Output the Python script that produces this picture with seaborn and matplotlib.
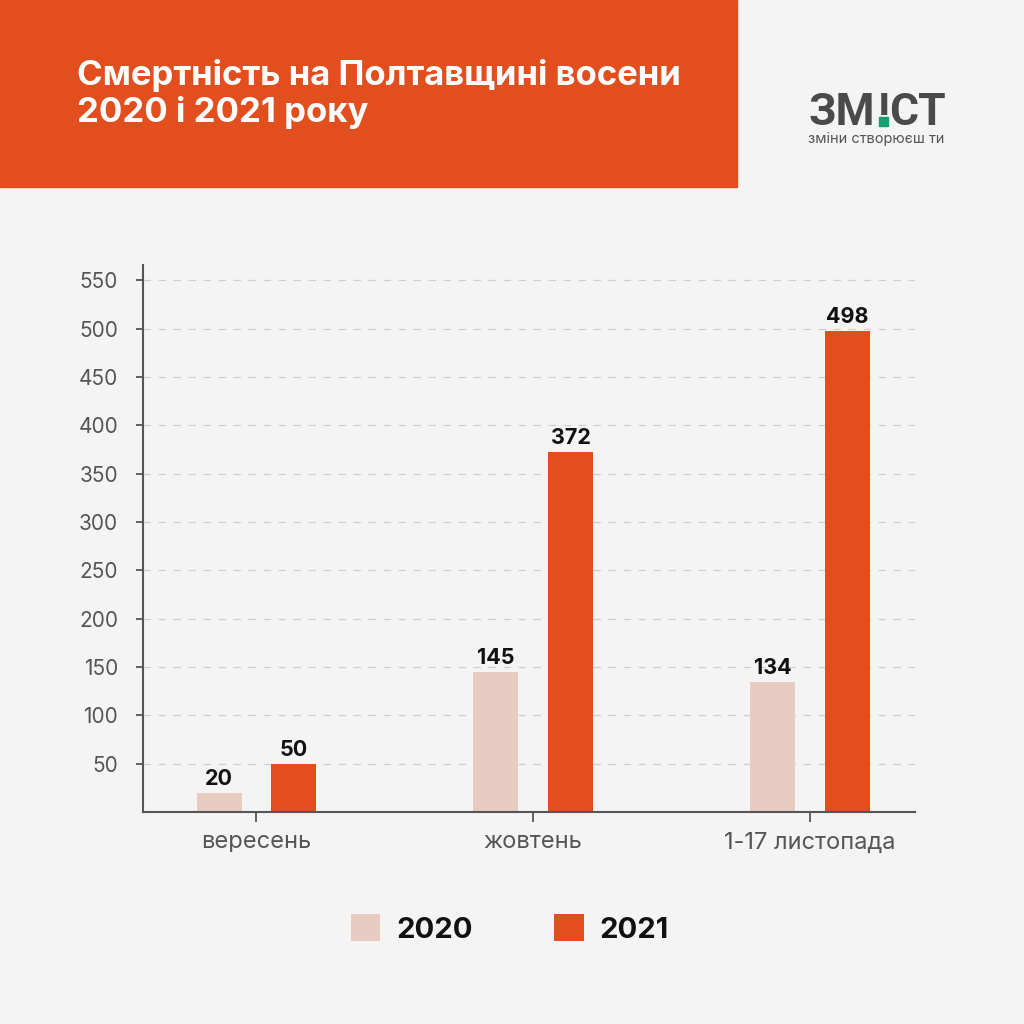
import numpy as np
import pandas as pd
import seaborn as sns
import matplotlib.pyplot as plt
from matplotlib.patches import Rectangle, Patch

## Data
months = ['вересень', 'жовтень', '1-17 листопада']
deaths_2020 = [20, 145, 134]
deaths_2021 = [50, 372, 498]
years = ['2020', '2021']
y_ticks = [50, 100, 150, 200, 250, 300, 350, 400, 450, 500, 550]

df = pd.DataFrame({
    'month': months * 2,
    'year': [years[0]] * 3 + [years[1]] * 3,
    'deaths': deaths_2020 + deaths_2021,
})

bg = '#f4f4f4'
orange = '#e34e1f'
pink = '#e8cbc1'
logo_grey = '#4a4a4a'

sns.set_theme(style='white')
plt.rcParams['font.family'] = ['Inter', 'DejaVu Sans']

fig = plt.figure(figsize=(10.24, 10.24), dpi=100, facecolor=bg)

def fx(px):
    return px / 1024

def fy(px):
    return 1 - px / 1024

## Header
fig.patches.append(Rectangle((0, fy(187)), fx(737), fx(187),
                             transform=fig.transFigure, color=orange, zorder=0))
fig.text(fx(77), fy(94), 'Смертність на Полтавщині восени\n2020 і 2021 року',
         color='white', fontsize=25, fontweight='bold', va='center', ha='left',
         linespacing=1.15)

## Logo
logo_font = dict(color=logo_grey, fontsize=32, fontweight='bold',
                 family=['Roboto', 'DejaVu Sans'], va='baseline')
fig.text(fx(808), fy(125), 'ЗМ', ha='left', **logo_font)
fig.text(fx(883.5), fy(125), '!', ha='center', **logo_font)
fig.text(fx(946), fy(125), 'СТ', ha='right', **logo_font)
fig.patches.append(Rectangle((fx(879), fy(126)), fx(9), fx(9),
                             transform=fig.transFigure, color='#16a06e', zorder=5))
fig.text(fx(808), fy(139), 'зміни створюєш ти', color='#555555',
         fontsize=10.5, va='center', ha='left')

## Chart
ax = fig.add_axes([fx(143), fy(812), fx(772), fx(547)])
ax.set_facecolor(bg)
sns.barplot(data=df, x='month', y='deaths', hue='year',
            palette={years[0]: pink, years[1]: orange}, saturation=1,
            width=0.54, gap=0.4, linewidth=0, ax=ax, legend=False)

for c in ax.containers:
    ax.bar_label(c, fontsize=15.5, fontweight='bold', color='#111111', padding=3)

ax.set_xlim(-0.41, 2.38)
ax.set_ylim(0, 566)
ax.set_yticks(y_ticks)
ax.set_xlabel('')
ax.set_ylabel('')
ax.yaxis.grid(True, linestyle=(0, (6, 6)), color='#cfcfcf', linewidth=0.9)
ax.set_axisbelow(True)
for s in ['top', 'right']:
    ax.spines[s].set_visible(False)
for s in ['left', 'bottom']:
    ax.spines[s].set_color('#555555')
    ax.spines[s].set_linewidth(1.5)
ax.tick_params(axis='y', left=True, length=5, width=1.3, color='#555555',
               labelsize=15, labelcolor='#555555', pad=13)
ax.tick_params(axis='x', bottom=True, length=7, width=1.3, color='#555555',
               labelsize=17, labelcolor='#555555', pad=7)

## Legend
handles = [Patch(facecolor=pink, edgecolor='none'), Patch(facecolor=orange, edgecolor='none')]
fig.legend(handles, years, loc='center', bbox_to_anchor=(fx(510), fy(929)),
           ncol=2, frameon=False, prop={'size': 21, 'weight': 'bold'},
           labelcolor='#111111', handlelength=1.0, handleheight=1.0,
           handletextpad=0.55, columnspacing=2.8)

plt.savefig('out.png', dpi=100, facecolor=bg)
